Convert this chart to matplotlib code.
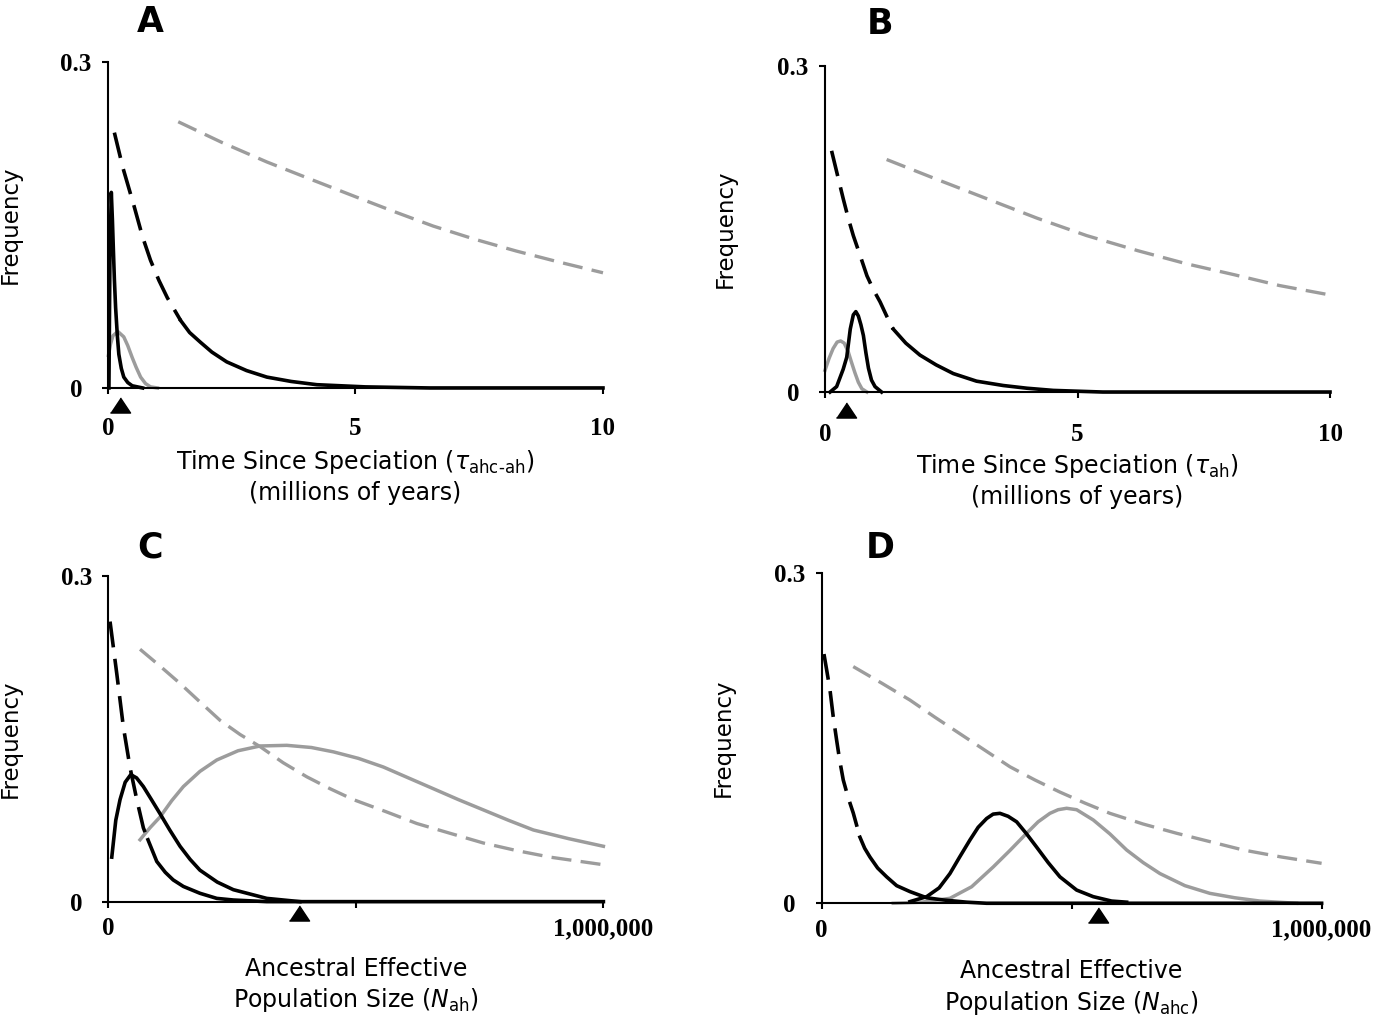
import matplotlib
matplotlib.use("Agg")
import matplotlib.pyplot as plt

# ---- data ----
# Panel A: time since speciation tau_ahc-ah (millions of years)
a_prior_dash_x = [0.13, 0.3, 0.53, 0.7, 0.86, 1.03, 1.2, 1.47]
a_prior_dash_y = [0.235, 0.203, 0.167, 0.139, 0.1175, 0.099, 0.083, 0.062]
a_prior_tail_x = [1.47, 1.65, 1.87, 2.1, 2.4, 2.8, 3.21, 3.7, 4.22, 5.2, 6.5, 10]
a_prior_tail_y = [0.062, 0.051, 0.042, 0.033, 0.024, 0.016, 0.010, 0.006, 0.003, 0.001, 0.0, 0.0]
a_post_x = [0.02, 0.04, 0.068, 0.09, 0.11, 0.13, 0.155, 0.19, 0.22, 0.27, 0.32, 0.4, 0.49, 0.7]
a_post_y = [0.0, 0.12, 0.18, 0.155, 0.127, 0.1, 0.074, 0.048, 0.031, 0.018, 0.010, 0.005, 0.002, 0.0]
a_gray_x = [0.01, 0.05, 0.1, 0.2, 0.32, 0.4, 0.49, 0.57, 0.66, 0.76, 0.86, 1.0]
a_gray_y = [0.03, 0.040, 0.048, 0.052, 0.047, 0.039, 0.028, 0.019, 0.010, 0.004, 0.001, 0.0]
a_gdash_x = [1.42, 2.3, 3.21, 4.1, 5.0, 5.8, 6.57, 7.4, 8.25, 9.1, 10.0]
a_gdash_y = [0.245, 0.226, 0.208, 0.192, 0.176, 0.162, 0.149, 0.137, 0.126, 0.116, 0.106]
a_true = 0.24

# Panel B: tau_ah
b_prior_dash_x = [0.13, 0.25, 0.36, 0.46, 0.56, 0.7, 0.83, 0.96, 1.09, 1.22, 1.35]
b_prior_dash_y = [0.222, 0.199, 0.178, 0.160, 0.144, 0.125, 0.107, 0.094, 0.083, 0.070, 0.058]
b_prior_tail_x = [1.35, 1.6, 1.88, 2.2, 2.54, 3.0, 3.53, 4.0, 4.52, 5.5, 10]
b_prior_tail_y = [0.058, 0.045, 0.034, 0.025, 0.017, 0.010, 0.006, 0.0035, 0.0015, 0.0, 0.0]
b_post_x = [0.1, 0.23, 0.36, 0.43, 0.5, 0.56, 0.61, 0.66, 0.71, 0.76, 0.81, 0.86, 0.92, 0.99, 1.12]
b_post_y = [0.0, 0.005, 0.021, 0.032, 0.058, 0.071, 0.074, 0.070, 0.062, 0.052, 0.036, 0.022, 0.011, 0.005, 0.0]
b_gray_x = [0.0, 0.08, 0.16, 0.24, 0.31, 0.38, 0.46, 0.52, 0.59, 0.66, 0.73, 0.83]
b_gray_y = [0.02, 0.031, 0.040, 0.046, 0.047, 0.045, 0.037, 0.028, 0.018, 0.009, 0.003, 0.0]
b_gdash_x = [1.22, 2.2, 3.2, 4.2, 5.18, 6.2, 7.16, 8.1, 9.0, 9.97]
b_gdash_y = [0.214, 0.196, 0.178, 0.160, 0.144, 0.130, 0.118, 0.108, 0.098, 0.0896]
b_true = 0.42

# Panel C: ancestral effective population size N_ah
c_prior_dash_x = [3400, 17000, 30300, 44000, 57400, 70700, 80000]
c_prior_dash_y = [0.258, 0.210, 0.161, 0.123, 0.094, 0.068, 0.057]
c_prior_tail_x = [80000, 97800, 115000, 131000, 151500, 185000, 219000, 252500, 320000, 1000000]
c_prior_tail_y = [0.057, 0.037, 0.027, 0.020, 0.014, 0.0077, 0.003, 0.0015, 0.0, 0.0]
c_post_x = [6900, 15000, 23600, 34000, 45200, 57000, 70700, 87000, 104400, 124000,
            144800, 165000, 185000, 220000, 252500, 320000, 387000]
c_post_y = [0.041, 0.075, 0.094, 0.110, 0.117, 0.114, 0.106, 0.094, 0.081, 0.066,
            0.051, 0.039, 0.029, 0.018, 0.011, 0.003, 0.0]
c_gray_x = [64000, 84000, 104400, 128000, 151500, 185000, 219000, 262000, 306500, 360400, 410000,
            454500, 505000, 555600, 606000, 656600, 707000, 757600, 808000, 858600, 930000, 1000000]
c_gray_y = [0.057, 0.068, 0.078, 0.093, 0.106, 0.120, 0.1305, 0.139, 0.1434, 0.144, 0.142,
            0.138, 0.132, 0.124, 0.114, 0.104, 0.094, 0.0845, 0.075, 0.066, 0.058, 0.051]
c_gdash_x = [64000, 104400, 144800, 185000, 225700, 266000, 306500, 353000, 400800, 448000,
             494900, 560000, 623000, 690000, 757600, 825000, 892300, 1000000]
c_gdash_y = [0.2325, 0.217, 0.201, 0.184, 0.167, 0.154, 0.1428, 0.128, 0.115, 0.104,
             0.094, 0.083, 0.072, 0.063, 0.054, 0.047, 0.041, 0.034]
c_true = 385000

# Panel D: N_ahc
d_prior_dash_x = [4600, 10000, 16600, 23000, 30000, 36000, 43200, 53000, 63200, 76600]
d_prior_dash_y = [0.2264, 0.212, 0.194, 0.170, 0.148, 0.130, 0.112, 0.096, 0.082, 0.060]
d_prior_tail_x = [76600, 86000, 96600, 112000, 130000, 150000, 176600, 210000, 243200, 290000, 330000, 1000000]
d_prior_tail_y = [0.060, 0.050, 0.042, 0.032, 0.024, 0.016, 0.0106, 0.005, 0.003, 0.001, 0.0, 0.0]
d_post_x = [176600, 210000, 235000, 256600, 276000, 296600, 313000, 330000, 343000, 356600,
            373000, 390000, 410000, 430000, 453000, 476600, 510000, 543200, 580000, 610000]
d_post_y = [0.0015, 0.006, 0.014, 0.027, 0.042, 0.0575, 0.069, 0.077, 0.081, 0.0817,
            0.079, 0.074, 0.063, 0.051, 0.037, 0.024, 0.012, 0.006, 0.002, 0.001]
d_gray_x = [143200, 200000, 256600, 300000, 343200, 376600, 410000, 433000, 456600, 473000, 490000,
            510000, 543200, 576600, 610000, 643000, 676600, 726600, 776600, 826600, 876600, 950000]
d_gray_y = [0.0, 0.001, 0.0045, 0.015, 0.033, 0.048, 0.0636, 0.074, 0.0817, 0.085, 0.0863,
            0.085, 0.0757, 0.063, 0.0484, 0.037, 0.027, 0.016, 0.009, 0.005, 0.002, 0.0]
d_gdash_x = [63200, 120000, 176600, 226600, 276600, 326600, 376600, 426600, 476600, 526600,
             576600, 643000, 710000, 776600, 843200, 920000, 1000000]
d_gdash_y = [0.215, 0.200, 0.1846, 0.169, 0.154, 0.139, 0.124, 0.112, 0.101, 0.091,
             0.0817, 0.072, 0.0636, 0.056, 0.0484, 0.042, 0.0363]
d_true = 552000

time_ticks = [0, 5, 10]
time_ticklabels = ["0", "5", "10"]
size_ticks = [0, 500000, 1000000]
size_ticklabels = ["0", "", "1,000,000"]
freq_ticks = [0, 0.3]
freq_ticklabels = ["0", "0.3"]

GRAY = "#9c9c9c"
SANS = "DejaVu Sans"
SERIF = "Liberation Serif"

fig = plt.figure(figsize=(14, 10.18), dpi=100)

panels = [
    dict(pos=[0.0771, 0.6189, 0.3536, 0.3202], letter="A", letter_xy=(0.085, 1.124),
         data=(a_prior_dash_x, a_prior_dash_y, a_prior_tail_x, a_prior_tail_y, a_post_x, a_post_y,
               a_gray_x, a_gray_y, a_gdash_x, a_gdash_y), true=a_true, tri_y=-0.052,
         xlim=(0, 10), ticks=time_ticks, labels=time_ticklabels, xpad=17,
         xlabel="Time Since Speciation ($\\tau_{\\mathrm{ahc\u2010ah}}$)\n(millions of years)", xl_y=-0.185),
    dict(pos=[0.5893, 0.6149, 0.3607, 0.3202], letter="B", letter_xy=(0.109, 1.129),
         data=(b_prior_dash_x, b_prior_dash_y, b_prior_tail_x, b_prior_tail_y, b_post_x, b_post_y,
               b_gray_x, b_gray_y, b_gdash_x, b_gdash_y), true=b_true, tri_y=-0.055,
         xlim=(0, 10), ticks=time_ticks, labels=time_ticklabels, xpad=18,
         xlabel="Time Since Speciation ($\\tau_{\\mathrm{ah}}$)\n(millions of years)", xl_y=-0.185),
    dict(pos=[0.0774, 0.1143, 0.3536, 0.3199], letter="C", letter_xy=(0.085, 1.086),
         data=(c_prior_dash_x, c_prior_dash_y, c_prior_tail_x, c_prior_tail_y, c_post_x, c_post_y,
               c_gray_x, c_gray_y, c_gdash_x, c_gdash_y), true=c_true, tri_y=-0.035,
         xlim=(0, 1000000), ticks=size_ticks, labels=size_ticklabels, xpad=7,
         xlabel="Ancestral Effective\nPopulation Size ($N_{\\mathrm{ah}}$)", xl_y=-0.17),
    dict(pos=[0.5869, 0.1127, 0.3571, 0.3244], letter="D", letter_xy=(0.117, 1.076),
         data=(d_prior_dash_x, d_prior_dash_y, d_prior_tail_x, d_prior_tail_y, d_post_x, d_post_y,
               d_gray_x, d_gray_y, d_gdash_x, d_gdash_y), true=d_true, tri_y=-0.035,
         xlim=(0, 1000000), ticks=size_ticks, labels=size_ticklabels, xpad=7,
         xlabel="Ancestral Effective\nPopulation Size ($N_{\\mathrm{ahc}}$)", xl_y=-0.17),
]

tri = [(-1, -0.75), (1, -0.75), (0, 0.75)]

for p in panels:
    ax = fig.add_axes(p["pos"])
    pdx, pdy, ptx, pty, px_, py_, gx, gy, gdx, gdy = p["data"]

    # gray dashed and gray solid
    ax.plot(gdx, gdy, color=GRAY, lw=2.4, dashes=(6, 2.8), clip_on=False)
    ax.plot(gx, gy, color=GRAY, lw=2.5, clip_on=False)
    # black prior: dashed then solid tail
    ax.plot(pdx, pdy, color="black", lw=2.6, dashes=(7.2, 3.2), clip_on=False)
    ax.plot(ptx, pty, color="black", lw=2.6, clip_on=False, solid_joinstyle="round")
    # black solid posterior
    ax.plot(px_, py_, color="black", lw=2.6, clip_on=False, solid_joinstyle="round")

    # true value marker under the axis
    ax.plot([p["true"]], [p["tri_y"]], marker=tri, markersize=14.5, color="black",
            transform=ax.get_xaxis_transform(), clip_on=False)

    ax.set_xlim(*p["xlim"])
    ax.set_ylim(0, 0.3)
    for s in ["top", "right"]:
        ax.spines[s].set_visible(False)
    for s in ["left", "bottom"]:
        ax.spines[s].set_linewidth(1.5)

    ax.set_xticks(p["ticks"])
    ax.set_xticklabels(p["labels"], fontfamily=SERIF, fontweight="bold", fontsize=18)
    ax.set_yticks(freq_ticks)
    ax.set_yticklabels(freq_ticklabels, fontfamily=SERIF, fontweight="bold", fontsize=18)
    for lab in ax.get_yticklabels():
        lab.set_horizontalalignment("center")
    ax.tick_params(axis="x", length=4, width=1.5, pad=p["xpad"])
    ax.tick_params(axis="y", length=4, width=1.5, pad=19)

    ax.set_ylabel("Frequency", fontfamily=SANS, fontsize=16.5)
    ax.yaxis.set_label_coords(-0.174, 0.5)

    ax.text(0.5, p["xl_y"], p["xlabel"], transform=ax.transAxes, ha="center", va="top",
            fontfamily=SANS, fontsize=17, linespacing=1.25)
    ax.text(p["letter_xy"][0], p["letter_xy"][1], p["letter"], transform=ax.transAxes,
            ha="center", va="center", fontfamily=SANS, fontweight="bold", fontsize=25)

fig.savefig("out.png", dpi=100)
